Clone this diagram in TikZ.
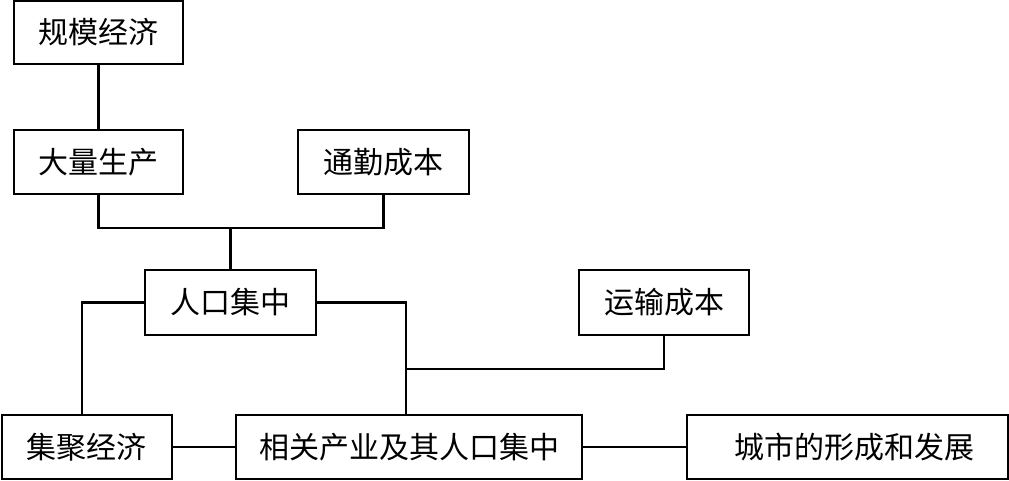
\documentclass[tikz,border=0pt]{standalone}
\usepackage{fontspec}
\newfontfamily\cjk{Noto Sans CJK SC}
\tikzset{
  box/.style={draw,line width=2.6pt,inner sep=0pt,font=\cjk\fontsize{30}{36}\selectfont},
  link/.style={line width=2.6pt}
}

\begin{document}
\begin{tikzpicture}[x=1pt,y=-1pt]
\useasboundingbox (0,0) rectangle (1009,481);
\path node (scale) at (98.5,32.5) [box,minimum width=169pt,minimum height=63pt] {规模经济}
node (mass) at (98.5,162) [box,minimum width=169pt,minimum height=64pt] {大量生产}
node (commute) at (383.5,162) [box,minimum width=171pt,minimum height=64pt] {通勤成本}
node (pop) at (230.5,302.5) [box,minimum width=171pt,minimum height=65pt] {人口集中}
node (transport) at (664,302.5) [box,minimum width=170pt,minimum height=65pt] {运输成本}
node (agglo) at (87,447) [box,minimum width=170pt,minimum height=64pt] {集聚经济}
node (related) at (409,447) [box,minimum width=346pt,minimum height=64pt] {相关产业及其人口集中}
node (city) at (847.5,447) [box,minimum width=321pt,minimum height=64pt] {\hspace{13pt}城市的形成和发展};
\coordinate (j1) at (230.5,228);
\coordinate (j2) at (82,302.5);
\coordinate (j3) at (406,369);
\draw[link] (scale) -- (mass);
\draw[link] (mass.south) |- (j1) -| (commute.south);
\draw[link] (j1) -- (pop.north);
\draw[link] (pop.west) -- (j2) -- (j2 |- agglo.north);
\draw[link] (pop.east) -| (j3) -- (j3 |- related.north);
\draw[link] (j3) -| (transport.south);
\draw[link] (agglo) -- (related);
\draw[link] (related) -- (city);
\end{tikzpicture}
\end{document}
